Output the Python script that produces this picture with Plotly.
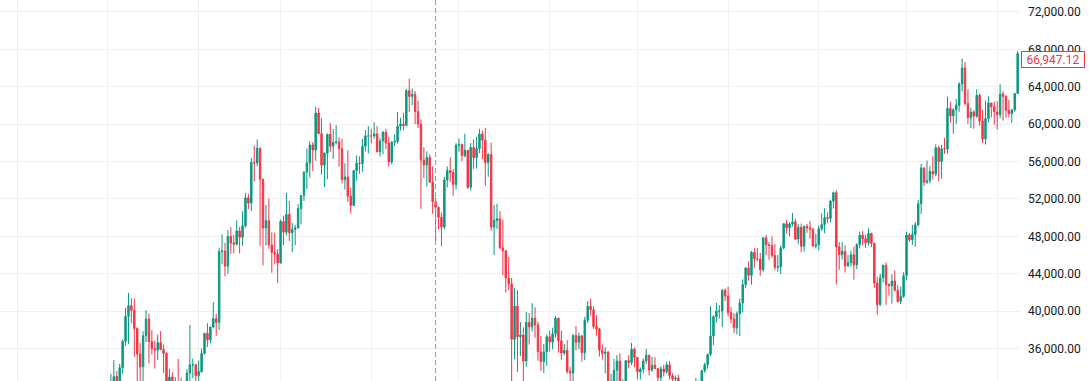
import pandas as pd
import plotly.graph_objects as go

# ---- Daily OHLC values (BTC, 2021-01-01 .. 2021-11-08) ----
start_date = "2021-01-01"

opens = [
    # Jan
    28923,29331,32176,33000,31989,33950,36769,39432,40586,40088,38150,35410,34049,37371,39145,36737,35994,35825,36622,35901,35468,30851,32950,32078,32259,32254,32464,30362,33368,34246,34262,
    # Feb
    33092,33514,35472,37620,36936,38289,39181,38795,46374,46420,44807,47969,47298,47157,48580,47911,49133,52117,51552,55906,55842,57412,54087,48891,49676,47073,46276,46103,
    # Mar
    45134,49596,48436,50349,48374,48746,48882,50959,52375,54874,55851,57773,57222,61188,58976,55605,56900,58912,57641,58030,58100,57351,54083,54342,52303,51293,55025,55817,55782,57628,58731,
    # Apr
    58735,58720,58951,57051,58203,59130,57991,55953,58077,58142,59769,59998,59861,63575,62959,63159,61334,60006,56150,55633,56425,53787,51690,51111,50047,49004,54021,55033,54824,53555,
    # May
    57750,57828,56631,57200,53241,57509,56427,57380,58929,58280,55883,56750,49007,49690,49880,46762,46450,43538,42910,36974,40526,37252,37449,34656,38796,38324,39241,38529,35661,34605,35641,
    # Jun
    37253,36694,37568,39246,36829,35516,35796,33556,33380,37389,36697,37341,35546,39021,40516,40143,38350,38093,35820,35484,35600,31614,32509,33675,34663,31577,32283,34702,34495,35911,
    # Jul
    35045,33502,33786,34669,35288,33690,34221,33863,32875,33815,33502,34259,33086,32729,32820,31874,31384,31521,31779,30839,29791,32144,32287,33635,34258,35376,37338,39407,39995,40008,42236,
    # Aug
    41626,39846,39147,38208,39723,40862,42836,44615,43829,46280,45595,45556,44428,47835,47099,47020,45936,44686,44741,46763,49339,48905,49321,49546,47707,48960,46942,49058,48897,48767,46970,
    # Sep
    47100,48811,49246,50000,49918,51757,52667,46868,46048,46396,44850,45172,46026,44940,47103,48121,47737,47299,48292,47242,43016,40693,43561,44895,42839,42717,43209,42235,41035,41564,
    # Oct
    43820,48142,47632,48200,49225,51471,55316,53785,53955,54949,54660,57471,56006,57370,57347,61672,60875,61528,62005,64280,66001,62194,60689,61286,60852,63079,60328,58414,60575,62254,61860,
    # Nov
    61299,61005,63227,62971,61453,61125,61527,63273,
]

highs = [
    29600,33300,34778,33600,34360,36939,40365,41950,41380,41350,38264,36628,37850,40100,39747,37950,36852,37469,37850,36415,35600,33826,33456,32944,34875,32921,32557,33783,38531,34933,34342,
    34717,35984,37662,38708,38310,40955,39700,46794,48200,47310,48678,48985,48150,49707,49010,50690,52618,52530,56368,57700,58352,57508,54183,51374,52041,48424,48395,46638,
    49790,50200,52640,51773,49448,49200,51450,52402,54895,57387,58150,58081,61844,61724,60633,56938,58974,60098,59468,59880,58589,58430,55830,57200,53230,55074,56640,56559,58405,59368,59800,
    59490,60200,59800,58500,59280,59474,58650,58153,58894,61300,60680,61200,63777,64854,63800,63520,62506,60499,57526,57076,56757,55469,52131,51167,50554,54356,55468,56428,55200,57963,
    58458,57911,58973,57236,57972,58360,58650,59500,59300,59592,56888,58000,51367,51483,50700,49795,46544,45800,43546,42451,42200,38829,38270,39920,39791,40841,40412,38877,37338,36488,37499,
    37895,38225,39476,39289,37925,36480,36900,34068,37534,38400,37680,37439,39380,41064,41330,40527,39559,38200,36457,36137,35750,33298,34881,35298,35500,32730,34749,35297,36600,36100,
    35057,33977,34945,35967,35293,35118,35059,33917,34100,34262,34592,34679,33340,33114,33185,32249,31950,32435,31899,31063,32858,32591,33650,34500,35398,40550,39542,40900,40640,42316,42414,
    42599,40446,39780,39969,41350,43392,44700,45310,46454,46718,46743,46218,47886,48144,47372,47998,47160,46000,47033,49382,49757,49500,50500,49875,49284,49355,49165,49309,49653,48910,48246,
    49156,50450,51000,50558,51900,52780,52920,47381,47400,47031,45987,46460,46876,47250,48500,48557,48169,48843,48372,47347,43639,44000,44978,45200,42970,43936,44350,42787,42625,44141,
    48495,48360,49228,49536,51887,55750,55338,56100,55490,56561,57839,57680,57777,58532,62933,62378,61700,62696,64486,67000,66639,63733,61747,61500,63710,63293,61496,62499,62980,62273,62405,
    62437,64270,63500,63086,62599,61600,63286,67789,
]

lows = [
    28624,28946,31962,28130,29900,33288,36300,36500,38720,35111,30420,32531,32380,36701,34408,35357,33850,34800,35844,33400,30071,28850,31390,30900,31910,30837,29241,29842,31915,32825,32169,
    32296,33419,35362,36161,36570,38215,37351,37988,45020,43727,43994,46125,46202,47014,46174,47003,48947,50901,50710,53863,55477,46950,44892,47003,46674,44106,45000,43000,
    45115,47047,48100,47500,46300,47070,48882,49274,51789,53005,54273,54962,56078,58966,54600,53271,54124,57023,56270,57820,55450,53650,53000,51700,50427,51278,53967,54691,54900,57072,56873,
    57935,58441,56956,56542,56777,57333,55473,55700,57630,57905,59301,59367,59770,61301,62020,60000,59580,50931,54221,53329,53695,50400,47500,48750,46930,48753,53222,53813,52330,53013,
    57052,56035,56437,53046,52900,55200,55250,56900,56235,53400,54370,48600,46000,48800,46650,43825,42001,42250,30000,34850,33488,35200,31111,34031,36419,37800,37134,34684,33632,33379,34153,
    35666,35920,37171,35555,34800,35258,33300,31000,32396,35800,35936,34600,34757,38730,39506,38116,37365,35129,34803,33336,31251,28805,31683,32286,31275,30151,32003,33862,34225,34017,
    32711,32699,33316,34357,33125,33532,33777,32077,32261,33004,33332,32658,32202,31550,31133,31020,31164,31108,30407,29278,29482,31708,31924,33402,33851,35205,36384,38772,39200,38313,41064,
    39422,38690,37642,37508,37332,39853,42446,43261,42844,44650,45341,43771,44217,45971,45500,45700,44376,44203,43955,46622,48280,48000,49029,47600,47135,46300,46365,48371,47762,46853,46700,
    46512,48584,48316,49400,49500,50969,42843,44412,45513,44132,44722,44742,43370,44500,46700,47021,46750,47033,46829,42500,39600,40565,43063,40675,41646,40803,42098,40888,40753,41410,
    43283,47418,47088,46891,49057,50382,53357,53617,53661,54080,54415,53879,54167,56818,56850,60150,58963,60000,61322,63481,62000,60000,59562,59510,60650,59817,58000,57820,60174,60725,59945,
    59405,60624,60382,60677,60721,60126,61322,63273,
]

closes = [
    29331,32178,33000,31988,33949,36769,39432,40582,40088,38150,35404,34051,37371,39144,36742,35994,35828,36631,35892,35468,30850,32945,32078,32259,32254,32467,30366,33364,34252,34262,33092,
    33526,35466,37618,36936,38290,39186,38795,46374,46420,44807,47969,47287,47153,48577,47911,49133,52119,51552,55906,55841,57408,54087,48891,49676,47073,46276,46106,45135,
    49587,48440,50349,48374,48751,48882,50971,52376,54885,55851,57773,57221,61188,58968,55605,56900,58912,57648,58030,58102,57351,54083,54340,52303,51293,55025,55817,55777,57628,58730,58740,
    58720,58950,57051,58202,59129,57992,55953,58077,58142,59770,60002,59860,63575,62959,63160,61334,60006,56151,55633,56425,53787,51690,51125,50047,49004,54021,55033,54824,53555,57750,
    57828,56631,57200,53241,57509,56427,57380,58929,58280,55883,56750,49007,49716,49880,46760,46450,43538,42910,37000,40527,37252,37449,34655,38796,38324,39241,38529,35663,34605,35641,37253,
    36693,37568,39246,36829,35513,35796,33552,33380,37388,36675,37331,35546,39020,40516,40144,38349,38092,35820,35483,35600,31608,32509,33678,34663,31584,32283,34700,34494,35911,35045,
    33504,33787,34669,35286,33690,34220,33862,32875,33815,33502,34259,33086,32729,32820,31880,31383,31520,31778,30839,29790,32144,32287,33634,34258,35381,37337,39406,39995,40008,42235,41626,
    39845,39147,38207,39723,40862,42836,44614,43829,46285,45595,45556,44428,47834,47107,47019,45936,44686,44741,46763,49339,48905,49321,49546,47706,48960,46942,49058,48897,48767,46970,47100,
    48810,49246,49999,49915,51756,52663,46863,46048,46395,44850,45173,46026,44940,47111,48122,47737,47299,48293,47241,42999,40693,43563,44895,42839,42717,43208,42235,41034,41564,43790,
    48142,47634,48200,49225,51471,55316,53785,53951,54949,54659,57471,56005,57367,57347,61672,60875,61528,62009,64280,66002,62193,60688,61286,60852,63078,60328,58413,60575,62253,61859,61318,
    61004,63226,62970,61452,61125,61527,63273,67550,
]

last_price = 66947.12
last_price_text = "66,947.12"
crosshair_date = "2021-04-23"
price_ticks = [32000, 36000, 40000, 44000, 48000, 52000, 56000, 60000, 64000, 68000, 72000]

dates = pd.date_range(start_date, periods=len(closes), freq="D")

UP = "#089981"
DOWN = "#F23645"
FONT = "Roboto"

fig = go.Figure(
    go.Candlestick(
        x=dates, open=opens, high=highs, low=lows, close=closes,
        increasing=dict(line=dict(color=UP, width=1), fillcolor=UP),
        decreasing=dict(line=dict(color=DOWN, width=1), fillcolor=DOWN),
        whiskerwidth=0,
        showlegend=False,
        hoverinfo="skip",
    )
)

y_lo, y_hi = 32524, 73273
x_lo = pd.Timestamp(start_date) - pd.Timedelta(days=36.92)
x_hi = pd.Timestamp(start_date) + pd.Timedelta(days=311.8)

fig.update_layout(
    width=1089, height=381,
    margin=dict(l=0, r=69, t=0, b=0),
    paper_bgcolor="white", plot_bgcolor="white",
    font=dict(family=FONT, size=12, color="#131722"),
    showlegend=False,
    hovermode=False,
    xaxis=dict(
        range=[x_lo, x_hi], type="date",
        rangeslider=dict(visible=False),
        showticklabels=False, ticks="",
        showgrid=True, gridcolor="#F0F0F0", gridwidth=1,
        dtick="M1", tick0="2021-01-01",
        showline=False, zeroline=False,
    ),
    yaxis=dict(
        range=[y_lo, y_hi], side="right",
        tickvals=price_ticks, tickformat=",.2f",
        showgrid=True, gridcolor="#F0F0F0", gridwidth=1,
        ticks="", ticklabelstandoff=7,
        tickfont=dict(family=FONT, size=12, color="#131722"),
        showline=False, zeroline=False,
    ),
    shapes=[
        dict(type="line", xref="x", yref="paper",
             x0=crosshair_date, x1=crosshair_date, y0=0, y1=1,
             line=dict(color="#9598A1", width=1, dash="5px,3px"), layer="above"),
    ],
)

# partially visible bottom tick label (below plotted range)
frac32 = (price_ticks[0] - y_lo) / (y_hi - y_lo)
fig.add_annotation(
    x=1, xref="paper", xanchor="left", xshift=7,
    y=frac32, yref="paper", yanchor="middle",
    text=f"{price_ticks[0]:,.2f}", showarrow=False,
    font=dict(family=FONT, size=12, color="#131722"),
)

# last price label
fig.add_annotation(
    x=1, xref="paper", xanchor="left", xshift=1,
    y=last_price, yref="y", yanchor="middle",
    text=last_price_text, showarrow=False,
    bgcolor="white", bordercolor=DOWN, borderwidth=1, borderpad=1,
    width=60, height=13,
    font=dict(family=FONT, size=12, color=DOWN),
)

fig.write_html(
    "out.html",
    config={"displayModeBar": False},
    post_script="document.body.style.margin='0px';document.body.style.overflow='hidden';",
)
